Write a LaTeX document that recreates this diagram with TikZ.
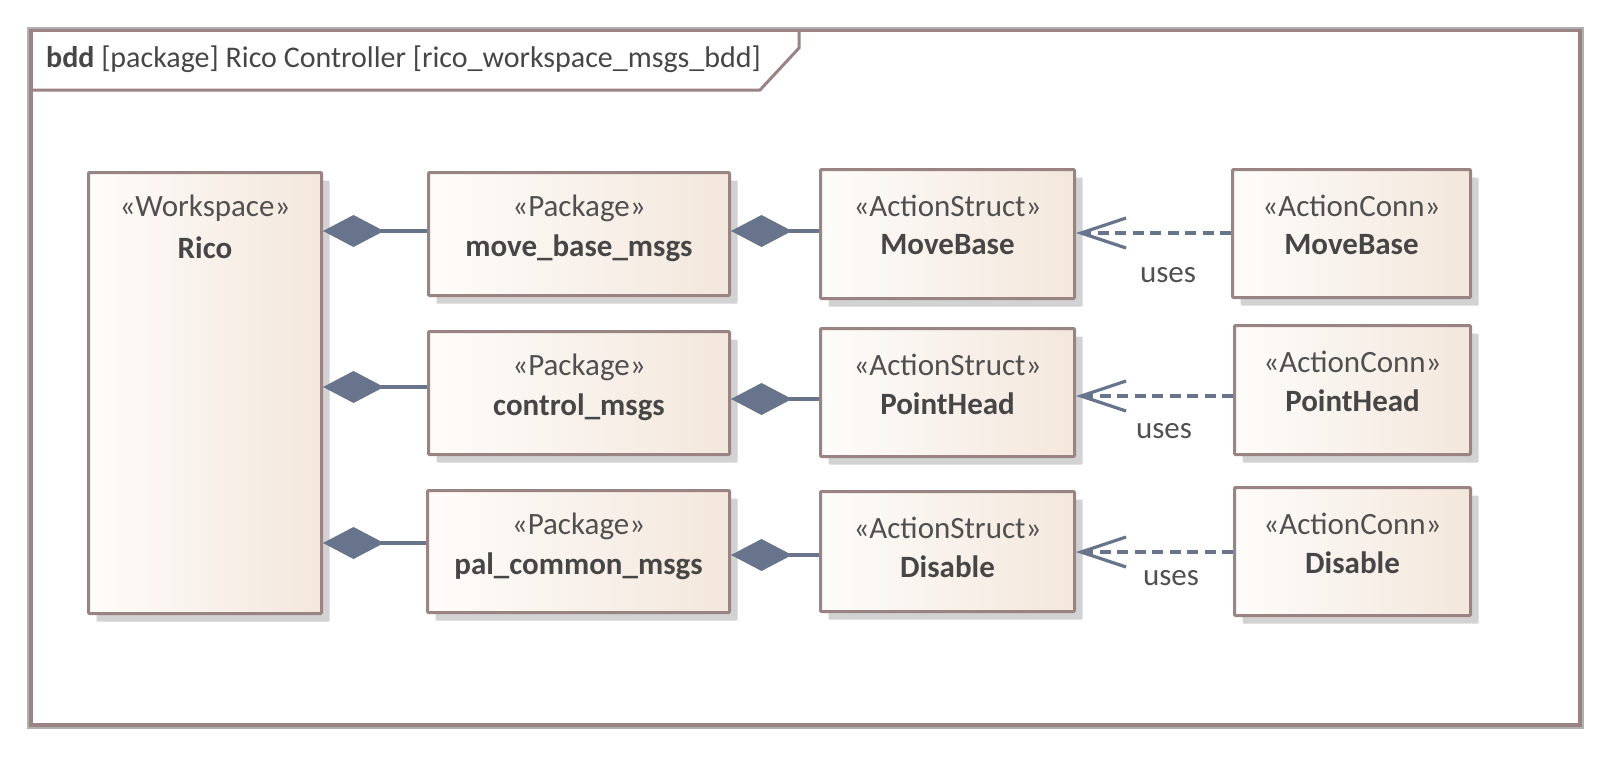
\documentclass[tikz,border=0pt]{standalone}
\usepackage{fontspec}
\setmainfont{Carlito}
\usetikzlibrary{arrows.meta,shadows,calc}
\definecolor{bordc}{RGB}{154,131,131}
\definecolor{framegray}{RGB}{176,176,176}
\definecolor{connc}{RGB}{104,116,140}
\definecolor{txtc}{RGB}{80,80,80}
\definecolor{namec}{RGB}{70,70,70}
\definecolor{fillL}{RGB}{254,252,250}
\definecolor{fillR}{RGB}{243,231,220}
\definecolor{shadc}{RGB}{210,210,210}
\tikzset{
  umlbox/.style={draw=bordc, line width=3pt, rounded corners=1pt, left color=fillL, right color=fillR, shading angle=90,
    inner sep=0pt, anchor=north west,
    general shadow={fill=shadc, shadow xshift=8pt, shadow yshift=-8pt}},
  stereo/.style={text=txtc, inner sep=0pt, font=\fontsize{31}{36}\selectfont},
  bname/.style={text=namec, inner sep=0pt, font=\fontsize{31}{36}\selectfont\bfseries},
  comp/.style={draw=connc, line width=3.2pt, -{Diamond[length=61pt,width=32pt]}, fill=connc},
  usesline/.style={draw=connc, line width=3.2pt, dash pattern=on 11pt off 6.5pt, -{Straight Barb[length=45pt,width=30pt,line width=3.2pt]}},
  lbl/.style={text=txtc, inner sep=0pt, font=\fontsize{31}{36}\selectfont}
}
\newcommand\mkumlbox[7]{%
  \pgfmathsetmacro\bw{#4-#2}\pgfmathsetmacro\bh{#5-#3}%
  \node[umlbox, minimum width=\bw pt, minimum height=\bh pt] (#1) at (#2,-#3) {};
  \node[stereo] (#1-s) at ($(#1.north)+(0,-37.5)$) {«#6»};
  \node[bname] (#1-n) at ($(#1.north)+(0,-77)$) {#7};
}
\begin{document}
\begin{tikzpicture}[x=1pt,y=1pt]
\useasboundingbox (0,0) rectangle (1611,-756);
% frame
\draw[framegray, line width=2pt] (28,-28) rectangle (1582.5,-727.5);
\draw[bordc, line width=3.2pt] (31,-30.5) rectangle (1580,-725);
\draw[bordc, line width=3pt] (31,-90) -- (760,-90) -- (799,-48) -- (799,-30.5);
\node[anchor=west, inner sep=0pt, text=namec, font=\fontsize{30}{36}\selectfont] (title) at (46,-59.6)
  {\textbf{bdd} [package] Rico Controller [rico\_workspace\_msgs\_bdd]};
% boxes
\mkumlbox{rico}{87}{171}{320}{612}{Workspace}{Rico}
\mkumlbox{pk1}{427}{171}{728}{294}{Package}{move\_base\_msgs}
\mkumlbox{pk2}{427}{330}{728}{453}{Package}{control\_msgs}
\mkumlbox{pk3}{426}{489}{728}{611}{Package}{pal\_common\_msgs}
\mkumlbox{as1}{819}{168}{1073}{297}{ActionStruct}{MoveBase}
\mkumlbox{as2}{819}{327}{1073}{455}{ActionStruct}{PointHead}
\mkumlbox{as3}{819}{490}{1073}{610}{ActionStruct}{Disable}
\mkumlbox{ac1}{1231}{168}{1469}{296}{ActionConn}{MoveBase}
\mkumlbox{ac2}{1233}{324}{1469}{453}{ActionConn}{PointHead}
\mkumlbox{ac3}{1233}{486}{1469}{614}{ActionConn}{Disable}
% compositions
\draw[comp] (pk1.west |- 0,-231) -- (rico.east |- 0,-231);
\draw[comp] (pk2.west |- 0,-387) -- (rico.east |- 0,-387);
\draw[comp] (pk3.west |- 0,-543) -- (rico.east |- 0,-543);
\draw[comp] (as1.west |- 0,-231) -- (pk1.east |- 0,-231);
\draw[comp] (as2.west |- 0,-399) -- (pk2.east |- 0,-399);
\draw[comp] (as3.west |- 0,-555) -- (pk3.east |- 0,-555);
% uses
\draw[usesline] (ac1.west |- 0,-233) -- (as1.east |- 0,-233);
\draw[usesline] (ac2.west |- 0,-396) -- (as2.east |- 0,-396);
\draw[usesline] (ac3.west |- 0,-552) -- (as3.east |- 0,-552);
\node[lbl] (u1) at (1168,-275) {uses};
\node[lbl] (u2) at (1164,-431.5) {uses};
\node[lbl] (u3) at (1171,-578) {uses};
\end{tikzpicture}
\end{document}
